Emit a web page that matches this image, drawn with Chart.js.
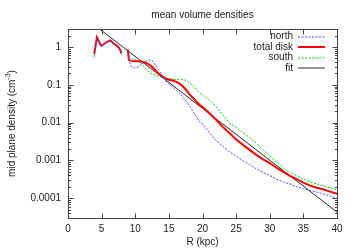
<!DOCTYPE html>
<html>
<head>
<meta charset="utf-8">
<script src="https://cdn.jsdelivr.net/npm/chart.js@4"></script>
<style>
  html, body { margin: 0; padding: 0; background: #fff; }
  #wrap { width: 354px; height: 248px; }
</style>
</head>
<body>
<div id="wrap"><canvas id="chart"></canvas></div>
<script>
// radius (kpc) and mid plane densities (cm^-3); null = gap in the curves
const radius = [3.9, 4.3, 4.7, 4.95, 5.4, 5.9, 6.3, 6.7, 7.1, 7.4, 7.75, 7.95, 8.4,
  8.9, 9.05, 9.4, 9.9, 10.5, 11.0, 11.6, 12.1, 12.6, 13.1, 13.6, 14.1, 14.6, 15.1,
  15.6, 16.1, 16.6, 17.1, 17.6, 18.1, 18.6, 19.1, 19.6, 20.1, 21, 22, 23, 24, 25,
  26, 27, 28, 29, 30, 31, 32, 33, 34, 35, 36, 37, 38, 39, 40];
const north = [0.62, 1.75, 1.25, 1.05, 1.2, 1.35, 1.5, 1.3, 1.15, 1.0, 0.85, 0.7, null,
  0.75, 0.45, 0.31, 0.28, 0.3, 0.36, 0.43, 0.46, 0.42, 0.32, 0.23, 0.167, 0.125, 0.1,
  0.087, 0.072, 0.06, 0.047, 0.036, 0.027, 0.02, 0.014, 0.0105, 0.009, 0.0055, 0.0034,
  0.0024, 0.0017, 0.0013, 0.00098, 0.00078, 0.0006, 0.00048, 0.0004, 0.00032, 0.00027,
  0.00024, 0.0002, 0.000178, 0.00016, 0.000145, 0.00013, 0.000115, 0.0001];
const totalDisk = [0.66, 1.8, 1.28, 1.08, 1.22, 1.4, 1.5, 1.28, 1.15, 1.04, 0.85, 0.69, null,
  0.85, 0.46, 0.43, 0.42, 0.42, 0.41, 0.38, 0.34, 0.29, 0.23, 0.19, 0.165, 0.145, 0.136,
  0.13, 0.12, 0.108, 0.09, 0.072, 0.055, 0.045, 0.036, 0.029, 0.025, 0.018, 0.012,
  0.0078, 0.0053, 0.0036, 0.0026, 0.0019, 0.0014, 0.00107, 0.00085, 0.00064, 0.0005,
  0.00039, 0.00032, 0.00026, 0.000215, 0.00019, 0.00017, 0.00015, 0.00013];
const south = [0.54, 1.9, 1.3, 1.02, 1.2, 1.42, 1.45, 1.25, 1.12, 1.0, 0.8, 0.62, null,
  0.9, 0.6, 0.51, 0.47, 0.42, 0.36, 0.26, 0.21, 0.19, 0.18, 0.167, 0.155, 0.148, 0.145,
  0.14, 0.138, 0.142, 0.14, 0.128, 0.11, 0.095, 0.075, 0.06, 0.052, 0.04, 0.027,
  0.016, 0.0098, 0.0075, 0.0055, 0.004, 0.0029, 0.0019, 0.0013, 0.00092, 0.00064,
  0.00048, 0.00039, 0.00032, 0.00027, 0.00024, 0.00021, 0.00019, 0.000167];
const fitR = [4.7, 40];
const fitDensity = [3.0, 4.3e-5];

const xTickValues = [0, 5, 10, 15, 20, 25, 30, 35, 40];
const yTickValues = [1, 0.1, 0.01, 0.001, 0.0001];

const FONT = '"Liberation Sans", Arial, sans-serif';
const TEXT = '#1a1a1a';

function pts(xs, ys) {
    return xs.map((x, i) => ({ x: x, y: ys[i] }));
}

function isMajor(v) {
    return yTickValues.some(t => Math.abs(Math.log10(v) - Math.log10(t)) < 1e-6);
}

// frame, inward ticks, title, axis titles and gnuplot style key
const decorations = {
    id: 'decorations',
    afterDraw(chart) {
        const ctx = chart.ctx;
        const a = chart.chartArea;
        const xs = chart.scales.x, ys = chart.scales.y;
        ctx.save();
        ctx.strokeStyle = '#444';
        ctx.lineWidth = 1;
        ctx.setLineDash([]);
        const L = Math.round(a.left) + 0.5, R = Math.round(a.right) + 0.5;
        const T = Math.round(a.top) + 0.5, B = Math.round(a.bottom) + 0.5;
        ctx.strokeRect(L, T, R - L, B - T);
        ctx.beginPath();
        xTickValues.forEach(v => {
            const px = Math.round(xs.getPixelForValue(v)) + 0.5;
            ctx.moveTo(px, B); ctx.lineTo(px, B - 5);
            ctx.moveTo(px, T); ctx.lineTo(px, T + 5);
        });
        ys.ticks.forEach(t => {
            const py = Math.round(ys.getPixelForValue(t.value)) + 0.5;
            const len = isMajor(t.value) ? 5 : 2.5;
            ctx.moveTo(L, py); ctx.lineTo(L + len, py);
            ctx.moveTo(R, py); ctx.lineTo(R - len, py);
        });
        ctx.stroke();

        ctx.fillStyle = TEXT;
        ctx.font = '10px ' + FONT;
        ctx.textAlign = 'center';
        ctx.textBaseline = 'middle';
        const cx = (a.left + a.right) / 2;
        ctx.fillText('mean volume densities', cx, 15);
        ctx.fillText('R (kpc)', cx, 242);

        // rotated y title with superscript
        ctx.save();
        ctx.translate(12, (a.top + a.bottom) / 2);
        ctx.rotate(-Math.PI / 2);
        const p1 = 'mid plane density (cm', p2 = '-3', p3 = ')';
        ctx.font = '10px ' + FONT;
        const w1 = ctx.measureText(p1).width, w3 = ctx.measureText(p3).width;
        ctx.font = '7px ' + FONT;
        const w2 = ctx.measureText(p2).width;
        let x0 = -(w1 + w2 + w3) / 2;
        ctx.textAlign = 'left';
        ctx.font = '10px ' + FONT;
        ctx.fillText(p1, x0, 0);
        ctx.font = '7px ' + FONT;
        ctx.fillText(p2, x0 + w1, -4);
        ctx.font = '10px ' + FONT;
        ctx.fillText(p3, x0 + w1 + w2, 0);
        ctx.restore();

        // key
        chart.data.datasets.forEach((ds, i) => {
            const y = 36.5 + i * 10.5;
            ctx.fillStyle = TEXT;
            ctx.font = '10px ' + FONT;
            ctx.textAlign = 'right';
            ctx.fillText(ds.label, 293, y);
            ctx.strokeStyle = ds.keyColor || ds.borderColor;
            ctx.lineWidth = ds.keyWidth || ds.borderWidth;
            ctx.setLineDash(ds.borderDash || []);
            ctx.beginPath();
            ctx.moveTo(298, Math.round(y));
            ctx.lineTo(325, Math.round(y));
            ctx.stroke();
        });
        ctx.restore();
    }
};

const ctx = document.getElementById('chart').getContext('2d');
new Chart(ctx, {
    type: 'line',
    data: {
        datasets: [{
            label: 'north',
            data: pts(radius, north),
            borderColor: 'rgb(70,70,255)',
            borderWidth: 1,
            borderDash: [2, 1.5]
        }, {
            label: 'total disk',
            data: pts(radius, totalDisk),
            borderColor: 'rgb(255,0,0)',
            borderWidth: 2
        }, {
            label: 'south',
            data: pts(radius, south),
            borderColor: 'rgb(0,210,0)',
            borderWidth: 1,
            borderDash: [2, 1.5]
        }, {
            label: 'fit',
            data: pts(fitR, fitDensity),
            borderColor: 'rgb(40,40,40)',
            borderWidth: 1,
            keyColor: 'rgb(150,150,150)',
            keyWidth: 2
        }]
    },
    options: {
        responsive: true,
        maintainAspectRatio: false,
        animation: false,
        devicePixelRatio: 1,
        spanGaps: false,
        layout: { padding: { top: 29, right: 17, left: 0, bottom: 0 } },
        elements: { point: { radius: 0 }, line: { tension: 0 } },
        plugins: { legend: { display: false }, title: { display: false }, tooltip: { enabled: false } },
        scales: {
            x: {
                type: 'linear',
                min: 0,
                max: 40,
                afterFit: s => { s.height = 30; },
                afterBuildTicks: s => { s.ticks = xTickValues.map(v => ({ value: v })); },
                grid: { display: false, drawTicks: false },
                border: { display: false },
                ticks: { padding: 5, color: TEXT, font: { size: 10, family: FONT }, maxRotation: 0, autoSkip: false }
            },
            y: {
                type: 'logarithmic',
                min: 3e-5,
                max: 3,
                afterFit: s => { s.width = 68; },
                afterBuildTicks: s => {
                    const t = [];
                    for (let e = -5; e <= 0; e++) {
                        for (let m = 1; m <= 9; m++) {
                            const v = m * Math.pow(10, e);
                            if (v >= s.min && v <= s.max) t.push({ value: v });
                        }
                    }
                    s.ticks = t;
                },
                grid: { display: false, drawTicks: false },
                border: { display: false },
                ticks: {
                    padding: 7,
                    color: TEXT,
                    autoSkip: false,
                    font: { size: 10, family: FONT },
                    callback: v => {
                        if (!isMajor(v)) return '';
                        const e = Math.round(Math.log10(v));
                        return e >= 0 ? String(Math.pow(10, e)) : Math.pow(10, e).toFixed(-e);
                    }
                }
            }
        }
    },
    plugins: [decorations]
});
</script>
</body>
</html>
